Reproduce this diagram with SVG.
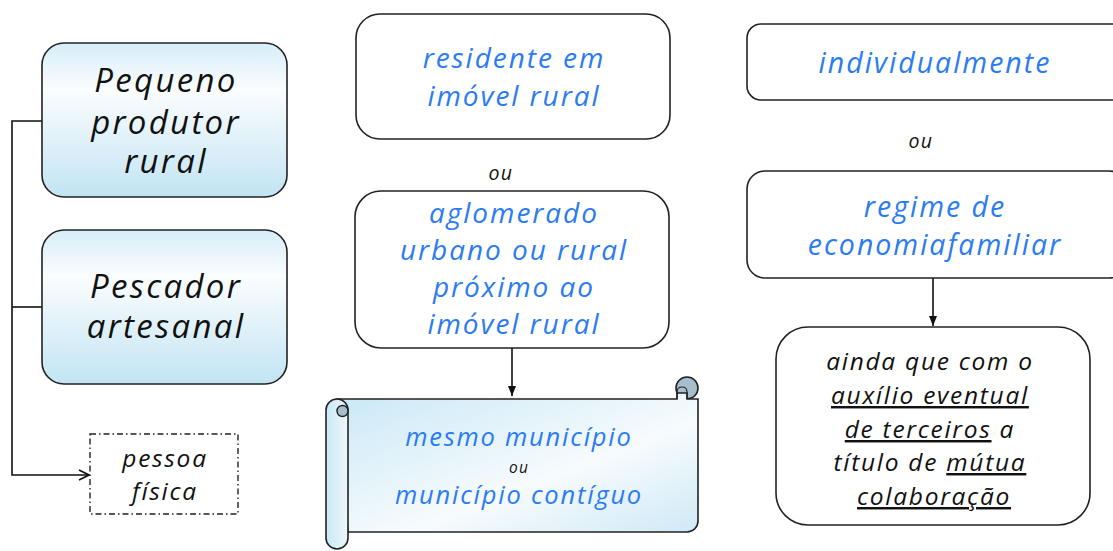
<svg xmlns="http://www.w3.org/2000/svg" width="1113" height="551" viewBox="0 0 1113 551">
<defs>
<linearGradient id="gBlue" x1="0" y1="0" x2="0" y2="1">
<stop offset="0" stop-color="#d6edf8"/>
<stop offset="0.3" stop-color="#fbfdfe"/>
<stop offset="1" stop-color="#c2e4f4"/>
</linearGradient>
<linearGradient id="gScroll" x1="0" y1="0" x2="1" y2="1">
<stop offset="0" stop-color="#c9e8f6"/>
<stop offset="0.6" stop-color="#f7fbfd"/>
<stop offset="1" stop-color="#cfe9f6"/>
</linearGradient>
<linearGradient id="gRoll" x1="0" y1="0" x2="1" y2="0">
<stop offset="0" stop-color="#c9e8f6"/>
<stop offset="1" stop-color="#eef7fb"/>
</linearGradient>
<marker id="arrOpen" viewBox="0 0 12 12" refX="11" refY="6" markerWidth="12" markerHeight="12" markerUnits="userSpaceOnUse" orient="auto">
<path d="M1,1 L11,6 L1,11" fill="none" stroke="#111" stroke-width="1.6"/>
</marker>
<marker id="arrFill" viewBox="0 0 10 10" refX="10" refY="5" markerWidth="10" markerHeight="10" markerUnits="userSpaceOnUse" orient="auto">
<path d="M0,1 L10,5 L0,9 Z" fill="#111"/>
</marker>
</defs>
<style>
.box{stroke:#222;stroke-width:1.6;}
.t{font-family:"Open Sans",Lato,"DejaVu Sans",sans-serif;font-style:italic;font-weight:400;text-anchor:middle;letter-spacing:0.07em;}
.blk{fill:#111;}
.blu{fill:#2a7bf4;}
.line{fill:none;stroke:#111;stroke-width:1.6;}
</style>
<rect width="1113" height="551" fill="#ffffff"/>

<g id="connectors">
<path class="line" d="M42,121 H12 V475 H89" marker-end="url(#arrOpen)"/>
<path class="line" d="M12,307 H42"/>
<path class="line" d="M512,348 V396" marker-end="url(#arrFill)"/>
<path class="line" d="M933,278 V326" marker-end="url(#arrFill)"/>
</g>

<g id="pequeno-produtor">
<rect class="box" x="42" y="43" width="245" height="154" rx="22" fill="url(#gBlue)"/>
<text class="t blk" font-size="33"><tspan x="166" y="92">Pequeno</tspan><tspan x="166" y="134">produtor</tspan><tspan x="166" y="173">rural</tspan></text>
</g>

<g id="pescador">
<rect class="box" x="42" y="230" width="245" height="154" rx="22" fill="url(#gBlue)"/>
<text class="t blk" font-size="33"><tspan x="166" y="298">Pescador</tspan><tspan x="166" y="338">artesanal</tspan></text>
</g>

<g id="pessoa-fisica">
<rect x="90" y="434" width="148" height="80" fill="#fff" stroke="#222" stroke-width="1.4" stroke-dasharray="6,3,1.5,3"/>
<text class="t blk" font-size="24.5"><tspan x="165" y="467">pessoa</tspan><tspan x="165" y="500">física</tspan></text>
</g>

<g id="residente">
<rect class="box" x="356" y="14" width="314" height="125" rx="24" fill="#fff"/>
<text class="t blu" font-size="28"><tspan x="514" y="68">residente em</tspan><tspan x="514" y="106">imóvel rural</tspan></text>
</g>

<g id="ou-1">
<text class="t blk" font-size="19.5" x="501" y="180">ou</text>
</g>

<g id="aglomerado">
<rect class="box" x="355" y="191" width="314" height="157" rx="26" fill="#fff"/>
<text class="t blu" font-size="28"><tspan x="514" y="223">aglomerado</tspan><tspan x="514" y="260">urbano ou rural</tspan><tspan x="514" y="297">próximo ao</tspan><tspan x="514" y="334">imóvel rural</tspan></text>
</g>

<g id="municipio-scroll">
<circle cx="687" cy="388" r="11" fill="#a7bfcc" stroke="#222" stroke-width="1.6"/>
<path d="M337,399 H677 V393 H687 V399 H698 V521 A11,11 0 0 1 687,532 H348 Z" fill="url(#gScroll)" stroke="#222" stroke-width="1.6"/>
<path d="M677,399 V392 Q677,387 682,387 Q687,387 687,392 V399" fill="none" stroke="#222" stroke-width="1.2"/>
<rect x="326" y="399" width="22" height="150" rx="11" fill="url(#gRoll)" stroke="#222" stroke-width="1.6"/>
<circle cx="342.5" cy="411" r="5.5" fill="#a7bfcc" stroke="#222" stroke-width="1.4"/>
<text class="t blu" font-size="25.5" x="519" y="446">mesmo município</text>
<text class="t blk" font-size="15.5" x="519" y="473">ou</text>
<text class="t blu" font-size="25.5" x="519" y="504">município contíguo</text>
</g>

<g id="individualmente">
<rect class="box" x="747" y="24" width="380" height="76" rx="14" fill="#fff"/>
<text class="t blu" font-size="28.5" x="935" y="73">individualmente</text>
</g>

<g id="ou-2">
<text class="t blk" font-size="19.5" x="921" y="148">ou</text>
</g>

<g id="regime">
<rect class="box" x="747" y="171" width="380" height="107" rx="18" fill="#fff"/>
<text class="t blu" font-size="28.5"><tspan x="935" y="217">regime de</tspan><tspan x="935" y="255">economiafamiliar</tspan></text>
</g>

<g id="ainda-que">
<rect class="box" x="776" y="327" width="314" height="198" rx="32" fill="#fff"/>
<text class="t blk" font-size="24.5">
<tspan x="934" y="370">ainda que com o</tspan>
<tspan x="934" y="404" text-decoration="underline">auxílio eventual</tspan>
<tspan x="934" y="438"><tspan text-decoration="underline">de terceiros</tspan> a</tspan>
<tspan x="934" y="471">título de <tspan text-decoration="underline">mútua</tspan></tspan>
<tspan x="934" y="505" text-decoration="underline">colaboração</tspan>
</text>
</g>
</svg>
